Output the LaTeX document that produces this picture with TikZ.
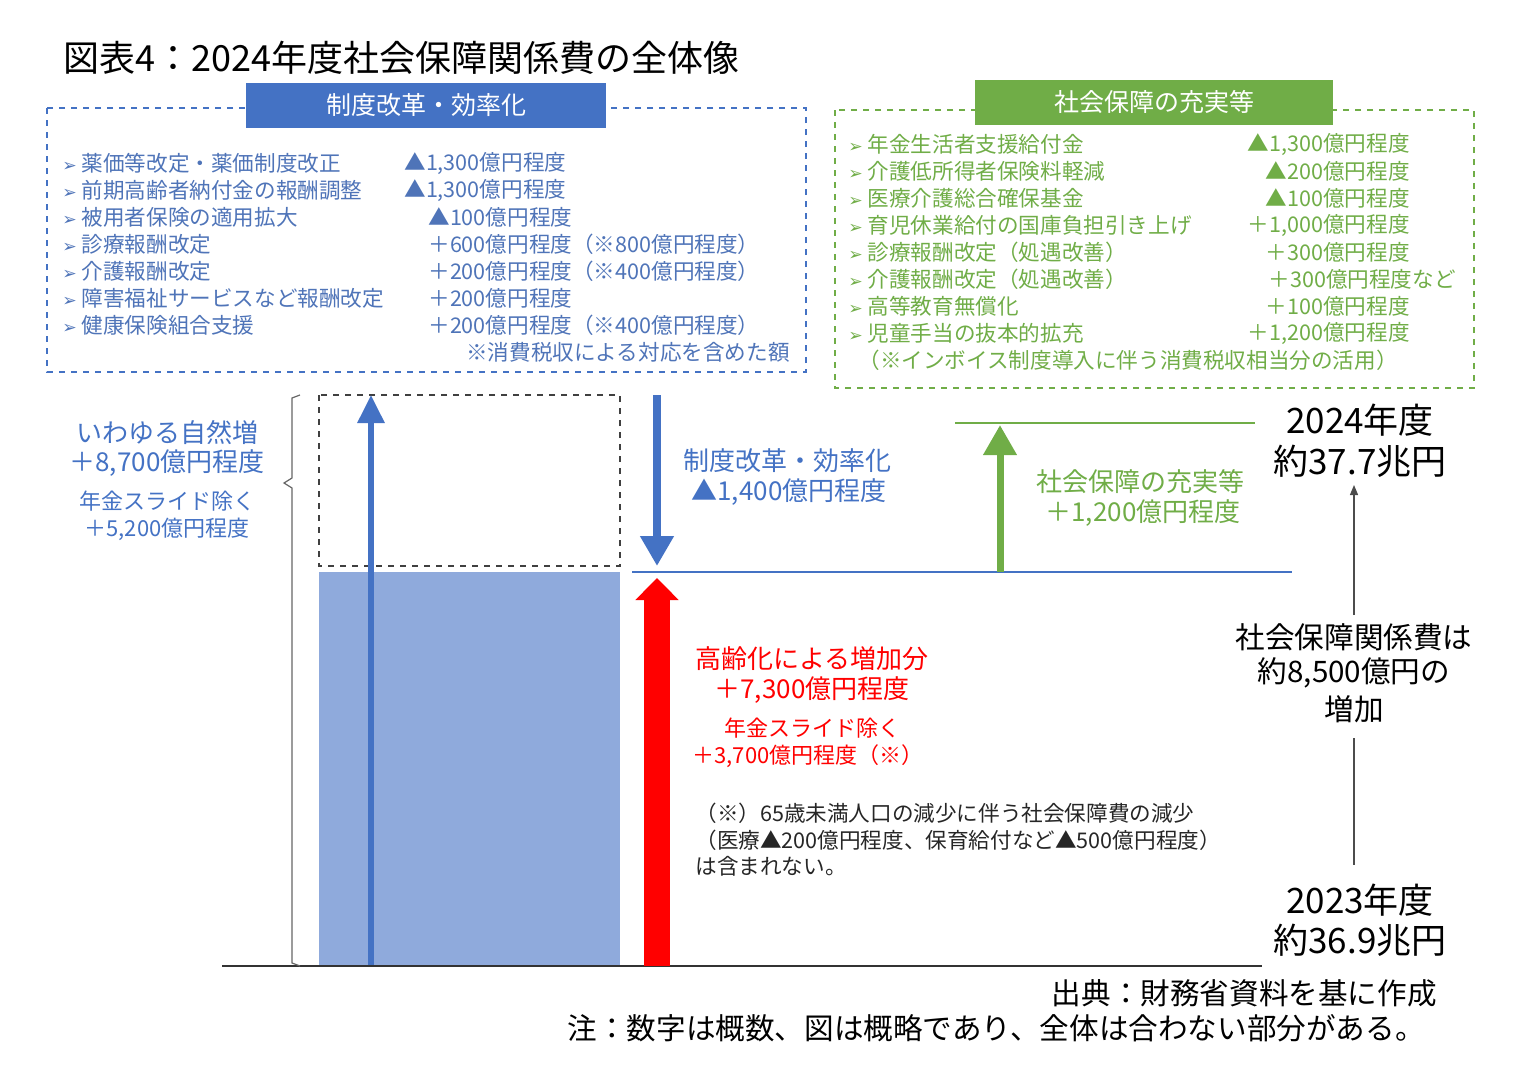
\documentclass[tikz,border=0pt]{standalone}
\usepackage{fontspec}
\setmainfont{Noto Sans CJK JP}
\newfontfamily\symf{DejaVu Sans}
\newcommand{\arw}{{\symf\scalebox{0.8}{➢}}}
\usetikzlibrary{arrows.meta}
\definecolor{bl}{HTML}{4472C4}
\definecolor{blt}{HTML}{4F74B8}
\definecolor{gr}{HTML}{70AD47}
\definecolor{bar}{HTML}{8FAADC}
\begin{document}
\begin{tikzpicture}[x=0.5pt,y=-0.5pt,
  li/.style={anchor=west,font=\fontsize{10.8}{12}\selectfont,inner sep=0pt},
  lbl/.style={font=\fontsize{13}{15}\selectfont,inner sep=0pt},
  sml/.style={font=\fontsize{11}{13}\selectfont,inner sep=0pt},
  big/.style={font=\fontsize{17.5}{20}\selectfont,inner sep=0pt},
  mid/.style={font=\fontsize{14.8}{17}\selectfont,inner sep=0pt}]
\useasboundingbox (0,0) rectangle (1521,1088);
\node[anchor=west,inner sep=0pt,font=\fontsize{18}{22}\selectfont] (title) at (63,58) {図表4：2024年度社会保障関係費の全体像};
% left box
\draw[bl,dashed,line width=1.2pt] (47,108) rectangle (806,372);
\node[fill=bl,text=white,minimum width=180pt,minimum height=22.5pt,inner sep=0pt,font=\fontsize{12.5}{14}\selectfont] (h1) at (426,105) {制度改革・効率化};
\begin{scope}[blt]
\foreach \y/\t in {163/薬価等改定・薬価制度改正,190/前期高齢者納付金の報酬調整,217/被用者保険の適用拡大,244/診療報酬改定,271/介護報酬改定,298/障害福祉サービスなど報酬改定,325/健康保険組合支援}
  \node[li] at (62,\y) {\arw\ \t};
\node[li] at (404,163) {▲1,300億円程度};
\node[li] at (404,190) {▲1,300億円程度};
\node[li] at (428,217) {▲100億円程度};
\node[li] at (428,244) {＋600億円程度（※800億円程度）};
\node[li] at (428,271) {＋200億円程度（※400億円程度）};
\node[li] at (428,298) {＋200億円程度};
\node[li] at (428,325) {＋200億円程度（※400億円程度）};
\node[li,anchor=east] at (790,352) {※消費税収による対応を含めた額};
\end{scope}
% right box
\draw[gr,dashed,line width=1.2pt] (835,110) rectangle (1474,388);
\node[fill=gr,text=white,minimum width=179pt,minimum height=22.5pt,inner sep=0pt,font=\fontsize{12.5}{14}\selectfont] (h2) at (1154,102) {社会保障の充実等};
\begin{scope}[gr]
\foreach \y/\t/\a in {144/年金生活者支援給付金/▲1{,}300億円程度,171/介護低所得者保険料軽減/▲200億円程度,198/医療介護総合確保基金/▲100億円程度,225/育児休業給付の国庫負担引き上げ/＋1{,}000億円程度,252/診療報酬改定（処遇改善）/＋300億円程度,306/高等教育無償化/＋100億円程度,333/児童手当の抜本的拡充/＋1{,}200億円程度}
  {\node[li] at (848,\y) {\arw\ \t};
   \node[li,anchor=east] at (1410,\y) {\a};}
\node[li] at (848,279) {\arw\ 介護報酬改定（処遇改善）};
\node[li,anchor=east] at (1456,279) {＋300億円程度など};
\node[li] at (858,360) {（※インボイス制度導入に伴う消費税収相当分の活用）};
\end{scope}
% bars
\fill[bar] (319,572) rectangle (620,966);
\draw[black!75,dashed,line width=1pt] (319,395) rectangle (620,566);
\coordinate (b0) at (371,966); \coordinate (b1) at (371,395);
\draw[bl,line width=3pt,-{Triangle[length=14pt,width=13pt]}] (b0) -- (b1);
\draw[black!80,line width=0.6pt] (222,966) -- (1262,966);
\draw[black!60,line width=0.6pt] (300,395) -- (292,398) -- (292,478) -- (284,483) -- (292,488) -- (292,963) -- (300,966);
\coordinate (d0) at (657,395); \coordinate (d1) at (657,566);
\draw[bl,line width=4pt,-{Triangle[length=15pt,width=16pt]}] (d0) -- (d1);
\draw[bl,line width=1.2pt] (632,572) -- (1292,572);
\coordinate (r0) at (657,966); \coordinate (r1) at (657,578);
\draw[red,line width=13pt,-{Triangle[length=11pt,width=21pt]}] (r0) -- (r1);
\coordinate (g0) at (1000,572); \coordinate (g1) at (1000,425);
\draw[gr,line width=3.5pt,-{Triangle[length=15pt,width=16pt]}] (g0) -- (g1);
\draw[gr,line width=1.2pt] (955,423) -- (1255,423);
\coordinate (v0) at (1354,615); \coordinate (v1) at (1354,485);
\draw[black!70,line width=0.6pt,-{Triangle[length=5pt,width=4pt]}] (v0) -- (v1);
\draw[black!70,line width=0.6pt] (1354,738) -- (1354,865);
% labels
\begin{scope}[bl]
\node[lbl] at (167,433) {いわゆる自然増};
\node[lbl] at (167,463) {＋8,700億円程度};
\node[sml] at (167,501) {年金スライド除く};
\node[sml] at (167,529) {＋5,200億円程度};
\node[lbl] at (787,461) {制度改革・効率化};
\node[lbl] at (789,492) {▲1,400億円程度};
\end{scope}
\begin{scope}[gr]
\node[lbl] at (1140,482) {社会保障の充実等};
\node[lbl] at (1143,513) {＋1,200億円程度};
\end{scope}
\begin{scope}[red]
\node[lbl] at (812,659) {高齢化による増加分};
\node[lbl] at (812,690) {＋7,300億円程度};
\node[sml] at (812,728) {年金スライド除く};
\node[sml] at (808,756) {＋3,700億円程度（※）};
\end{scope}
\node[big] at (1360,420) {2024年度};
\node[big] at (1360,461) {約37.7兆円};
\node[mid] at (1354,637) {社会保障関係費は};
\node[mid] at (1354,673) {約8,500億円の};
\node[mid] at (1354,709) {増加};
\node[big] at (1360,900) {2023年度};
\node[big] at (1360,940) {約36.9兆円};
\node[li,black!85] at (695,813) {（※）65歳未満人口の減少に伴う社会保障費の減少};
\node[li,black!85] at (695,840) {（医療▲200億円程度、保育給付など▲500億円程度）};
\node[li,black!85] at (695,866) {は含まれない。};
\node[mid,anchor=east] at (1437,993) {出典：財務省資料を基に作成};
\node[mid,anchor=east] at (1425,1028) {注：数字は概数、図は概略であり、全体は合わない部分がある。};
\end{tikzpicture}
\end{document}
